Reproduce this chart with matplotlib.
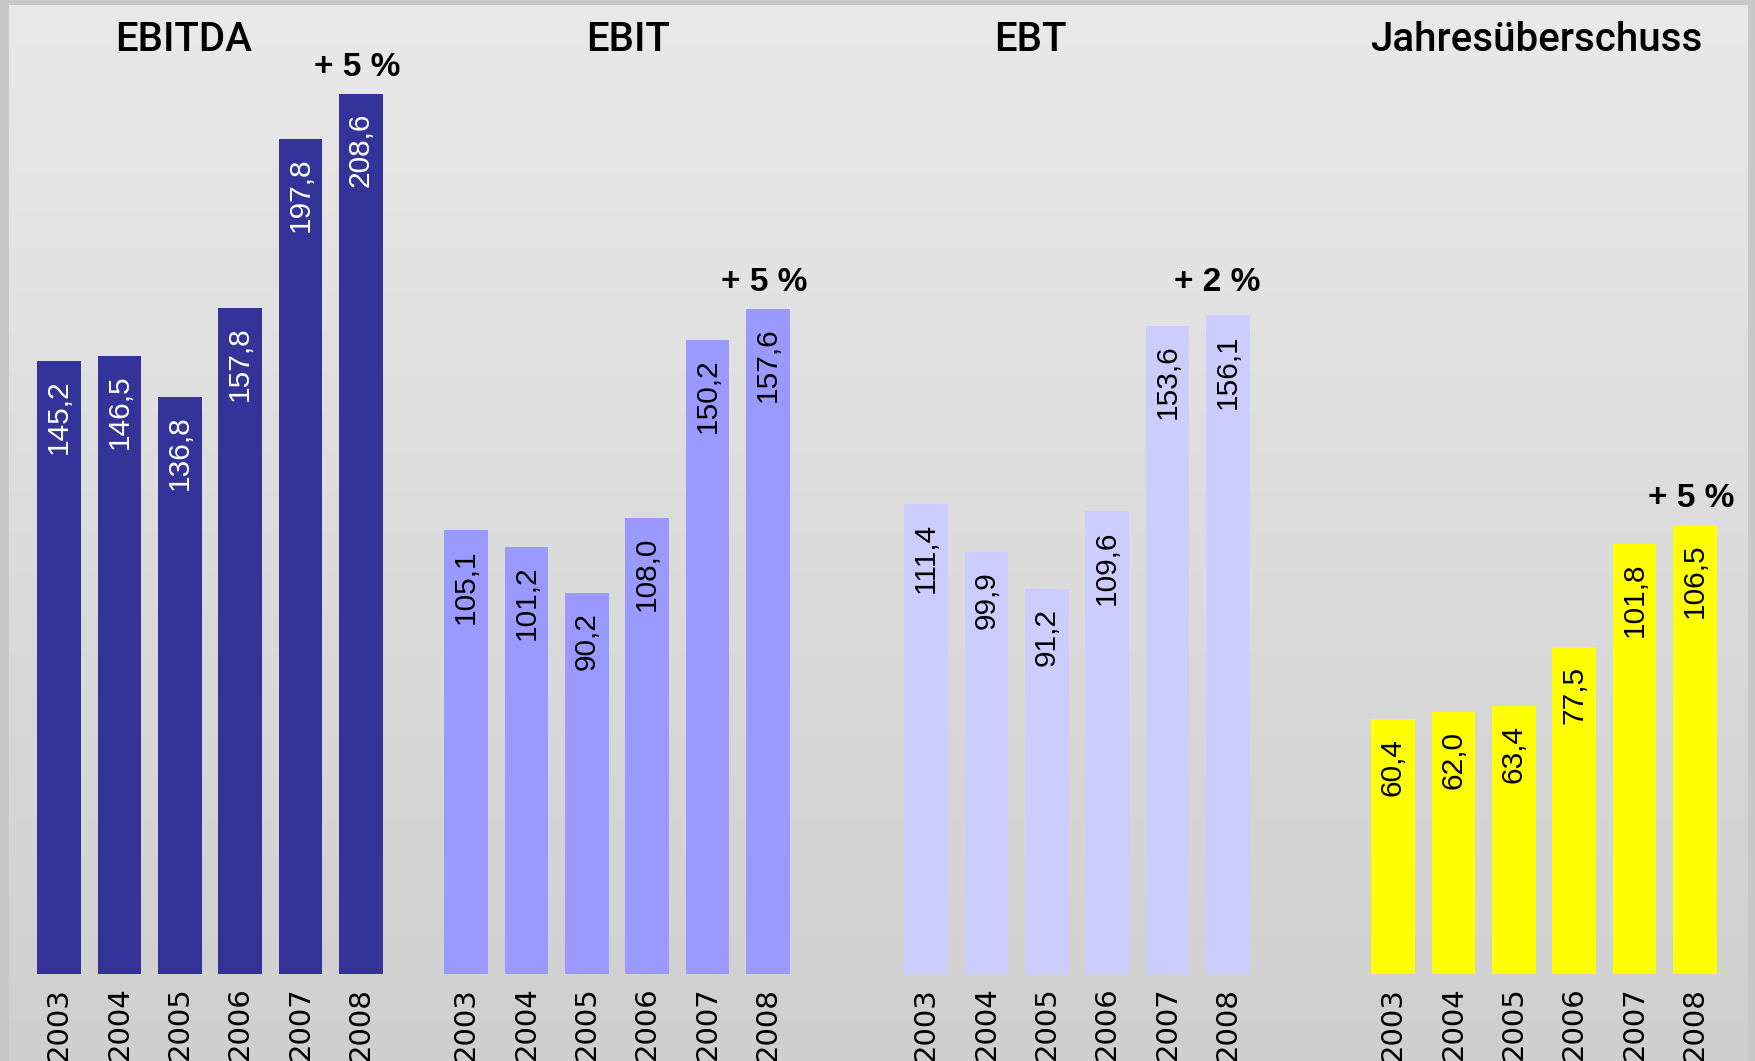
import matplotlib.pyplot as plt
import numpy as np

years = ['2003', '2004', '2005', '2006', '2007', '2008']
titles = ['EBITDA', 'EBIT', 'EBT', 'Jahresüberschuss']
ebitda = [145.2, 146.5, 136.8, 157.8, 197.8, 208.6]
ebit = [105.1, 101.2, 90.2, 108.0, 150.2, 157.6]
ebt = [111.4, 99.9, 91.2, 109.6, 153.6, 156.1]
jahresueberschuss = [60.4, 62.0, 63.4, 77.5, 101.8, 106.5]
growth = ['+ 5 %', '+ 5 %', '+ 2 %', '+ 5 %']

series = [ebitda, ebit, ebt, jahresueberschuss]
colors = ['#333399', '#9999ff', '#ccccff', '#ffff00']
label_colors = ['white', 'black', 'black', 'black']

# layout in pixel-like x units
W, H = 1755, 1061
group_x0 = [59, 466, 926, 1393]
title_x = [184, 628, 1030, 1536]
growth_dx = [-4, -4, -11, -4]
step = 60.4
bar_w = 43.5
px_per_unit = 4.22
base_px = 87  # baseline distance from bottom

fig = plt.figure(figsize=(W / 100, H / 100), dpi=100)
fig.patch.set_facecolor('#c8c8c8')

# gradient panel
bg = fig.add_axes([9 / W, 0, (1748 - 9) / W, (H - 5) / H])
grad = np.linspace(233, 207, 256).reshape(-1, 1) / 255.0
bg.imshow(np.dstack([grad, grad, grad]), aspect='auto', extent=[0, 1, 0, 1])
bg.axis('off')

ax = fig.add_axes([0, 0, 1, 1])
ax.patch.set_alpha(0.0)
ax.set_xlim(0, W)
ax.set_ylim(-base_px / px_per_unit, (H - base_px) / px_per_unit)
ax.axis('off')

for g, vals in enumerate(series):
    xs = group_x0[g] + step * np.arange(len(vals))
    ax.bar(xs, vals, width=bar_w, color=colors[g], linewidth=0)
    for x, v, yr in zip(xs, vals, years):
        ax.text(x, v - 4.4, f'{v:.1f}'.replace('.', ','), rotation=90,
                ha='center', va='top', fontsize=21.5, color=label_colors[g],
                family='Liberation Sans')
        ax.text(x, 0.07, yr, rotation=90, ha='center', va='top',
                fontsize=21, color='black', family='DejaVu Sans',
                transform=ax.get_xaxis_transform())
    # EBT growth label sits at the same height as the EBIT one
    ax.text(xs[-1] + growth_dx[g], max(vals[-1], ebit[-1] if g == 2 else 0) + 4.2,
            growth[g], ha='center', va='baseline',
            fontsize=24, fontweight='bold', color='black',
            family='Liberation Sans')
    ax.text(title_x[g], 1 - 40 / H, titles[g], ha='center', va='center',
            fontsize=29, fontweight='medium', color='black', family='Roboto',
            transform=ax.get_xaxis_transform())

plt.savefig('out.png', dpi=100)
